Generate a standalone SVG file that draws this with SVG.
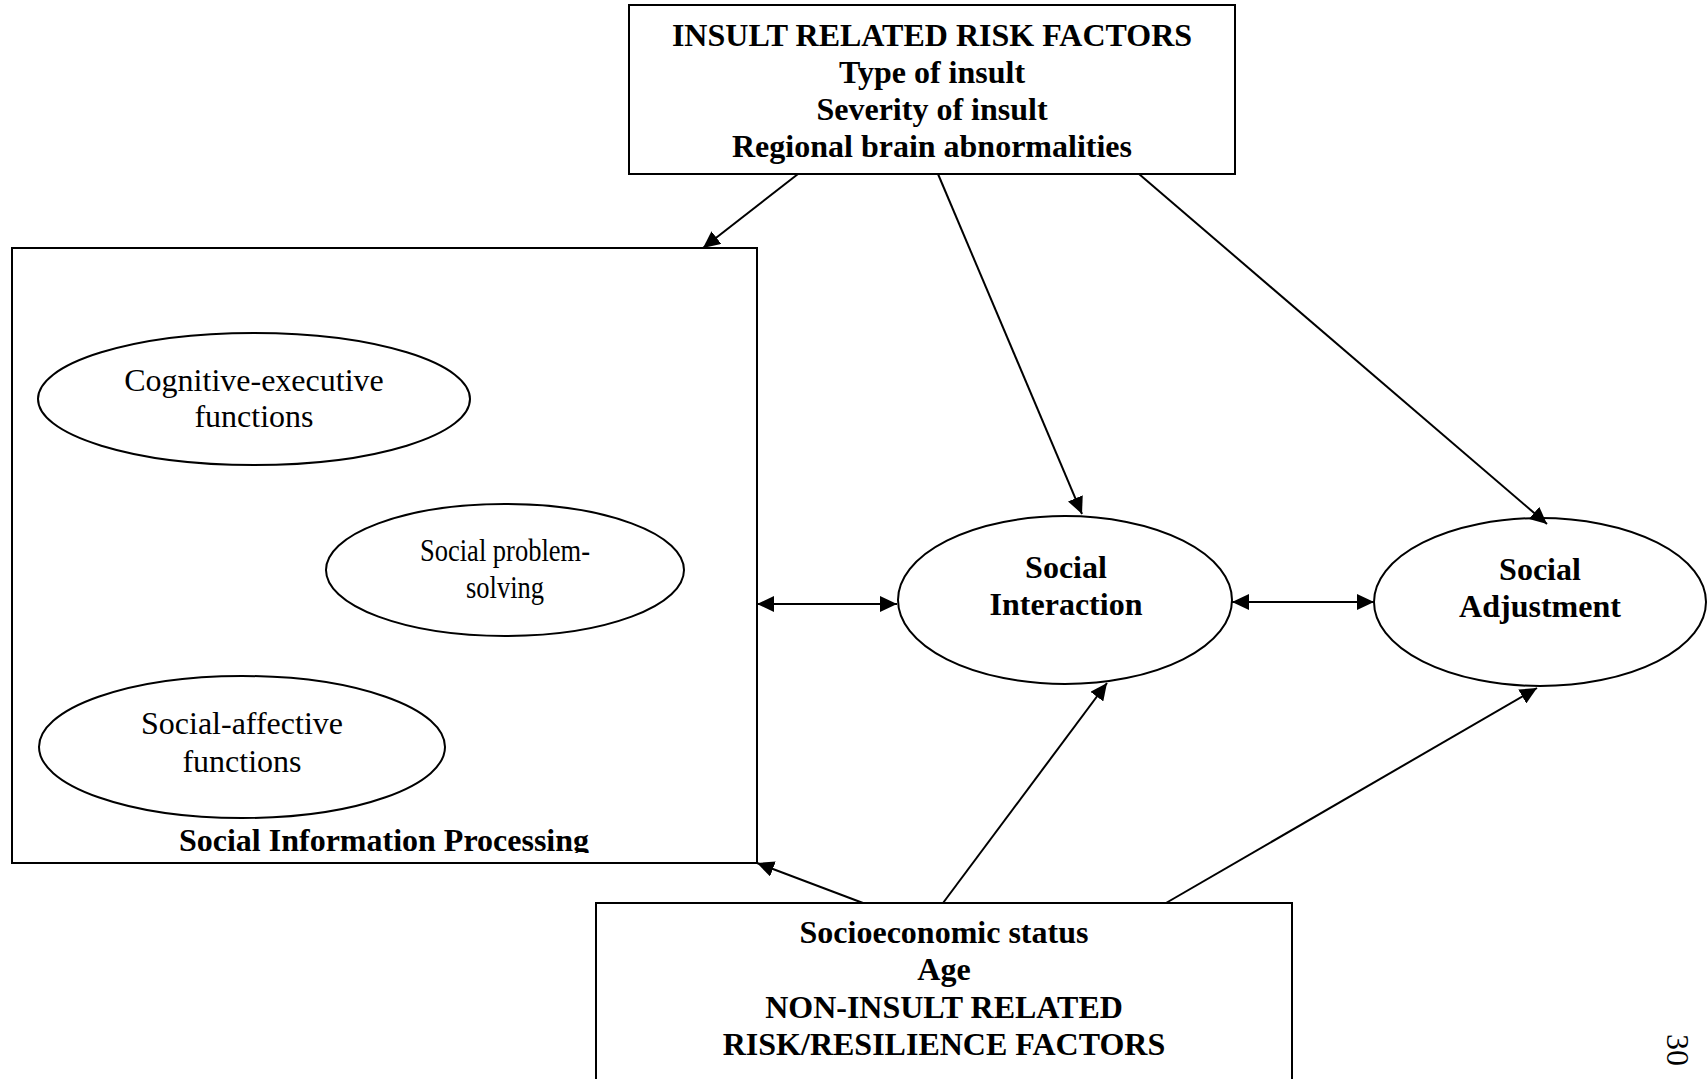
<svg xmlns="http://www.w3.org/2000/svg" width="1707" height="1079" viewBox="0 0 1707 1079">
<style>
  .box{fill:#fff;stroke:#000;stroke-width:2}
  .ell{fill:#fff;stroke:#000;stroke-width:2}
  .b{font-family:"Liberation Serif","Times New Roman",serif;font-weight:bold;font-size:32px;fill:#000;text-anchor:middle}
  .r{font-family:"Liberation Serif","Times New Roman",serif;font-size:32px;fill:#000;text-anchor:middle}
  .ln{stroke:#000;stroke-width:2;fill:none}
</style>
<defs>
  <marker id="ah" markerUnits="userSpaceOnUse" markerWidth="18" markerHeight="16" refX="17" refY="8" orient="auto-start-reverse">
    <path d="M0,0 L17,8 L0,16 z" fill="#000"/>
  </marker>
  <clipPath id="sipclip"><rect x="12" y="800" width="745" height="53"/></clipPath>
</defs>
<rect width="1707" height="1079" fill="#fff"/>

<g id="insult-factors">
  <rect class="box" x="629" y="5" width="606" height="169"/>
  <text class="b" x="932" y="46">INSULT RELATED RISK FACTORS</text>
  <text class="b" x="932" y="83">Type of insult</text>
  <text class="b" x="932" y="120">Severity of insult</text>
  <text class="b" x="932" y="157">Regional brain abnormalities</text>
</g>

<g id="social-information-processing">
  <rect class="box" x="12" y="248" width="745" height="615"/>
  <text class="b" x="384" y="851" clip-path="url(#sipclip)">Social Information Processing</text>
</g>

<g id="cognitive-executive">
  <ellipse class="ell" cx="254" cy="399" rx="216" ry="66"/>
  <text class="r" x="254" y="391">Cognitive-executive</text>
  <text class="r" x="254" y="427">functions</text>
</g>

<g id="social-problem-solving">
  <ellipse class="ell" cx="505" cy="570" rx="179" ry="66"/>
  <text class="r" x="505" y="561" textLength="170" lengthAdjust="spacingAndGlyphs">Social problem-</text>
  <text class="r" x="505" y="598" textLength="78" lengthAdjust="spacingAndGlyphs">solving</text>
</g>

<g id="social-affective">
  <ellipse class="ell" cx="242" cy="747" rx="203" ry="71"/>
  <text class="r" x="242" y="734">Social-affective</text>
  <text class="r" x="242" y="772">functions</text>
</g>

<g id="social-interaction">
  <ellipse class="ell" cx="1065" cy="600" rx="167" ry="84"/>
  <text class="b" x="1066" y="578">Social</text>
  <text class="b" x="1066" y="615">Interaction</text>
</g>

<g id="social-adjustment">
  <ellipse class="ell" cx="1540" cy="602" rx="166" ry="84"/>
  <text class="b" x="1540" y="580">Social</text>
  <text class="b" x="1540" y="617">Adjustment</text>
</g>

<g id="non-insult-factors">
  <rect class="box" x="596" y="903" width="696" height="190"/>
  <text class="b" x="944" y="943">Socioeconomic status</text>
  <text class="b" x="944" y="980">Age</text>
  <text class="b" x="944" y="1018">NON-INSULT RELATED</text>
  <text class="b" x="944" y="1055">RISK/RESILIENCE FACTORS</text>
</g>

<g id="connectors">
  <line class="ln" x1="798" y1="174" x2="703" y2="248" marker-end="url(#ah)"/>
  <line class="ln" x1="938" y1="174" x2="1082" y2="514" marker-end="url(#ah)"/>
  <line class="ln" x1="1139" y1="174" x2="1547" y2="524" marker-end="url(#ah)"/>
  <line class="ln" x1="757" y1="604" x2="897" y2="604" marker-start="url(#ah)" marker-end="url(#ah)"/>
  <line class="ln" x1="1232" y1="602" x2="1374" y2="602" marker-start="url(#ah)" marker-end="url(#ah)"/>
  <line class="ln" x1="943" y1="903" x2="1107" y2="683" marker-end="url(#ah)"/>
  <line class="ln" x1="1166" y1="903" x2="1537" y2="688" marker-end="url(#ah)"/>
  <line class="ln" x1="863" y1="903" x2="757" y2="863" marker-end="url(#ah)"/>
</g>

<text font-family="Liberation Serif, serif" font-size="32" fill="#000" transform="translate(1667,1034) rotate(90)">30</text>
</svg>
